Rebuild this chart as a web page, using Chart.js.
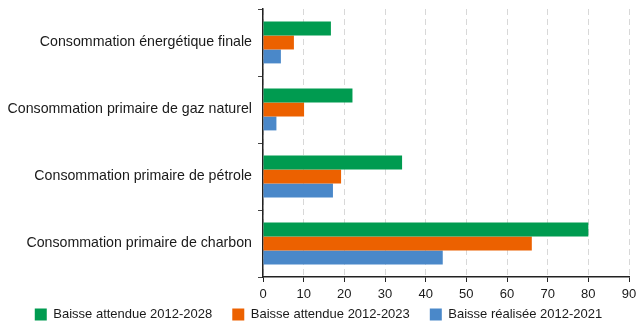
<!DOCTYPE html>
<html>
<head>
<meta charset="utf-8">
<script src="https://cdn.jsdelivr.net/npm/chart.js@4/dist/chart.umd.min.js"></script>
<style>
  html, body { margin: 0; padding: 0; background: #fff; }
  #wrap { width: 637px; height: 321px; }
</style>
</head>
<body>
<div id="wrap"><canvas id="chart"></canvas></div>
<script>
// catégories (axe vertical) et séries en %
const categories = [
    'Consommation énergétique finale',
    'Consommation primaire de gaz naturel',
    'Consommation primaire de pétrole',
    'Consommation primaire de charbon'
];
const baisse2028 = [16.7, 22, 34.2, 80];
const baisse2023 = [7.6, 10.1, 19.2, 66.1];
const realisee2021 = [4.4, 3.3, 17.2, 44.2];
const xTicks = [0, 10, 20, 30, 40, 50, 60, 70, 80, 90];

const font = "'Liberation Sans', Arial, Helvetica, sans-serif";

// légende compacte : on garde l'espacement horizontal de 20px
// mais on réduit la hauteur réservée sous l'axe
const LEGEND_H = 21;
const LEGEND_SHIFT = 12;
const compactLegend = {
    id: 'compactLegend',
    afterInit(chart) {
        const legend = chart.legend;
        const fit = legend.fit;
        legend.fit = function() {
            fit.call(this);
            this.height = LEGEND_H;
        };
    },
    afterLayout(chart) {
        chart.legend.top -= LEGEND_SHIFT;
    }
};

new Chart(document.getElementById('chart'), {
    type: 'bar',
    data: {
        labels: categories,
        datasets: [
            { label: 'Baisse attendue 2012-2028', data: baisse2028, backgroundColor: '#009b50' },
            { label: 'Baisse attendue 2012-2023', data: baisse2023, backgroundColor: '#ec6100' },
            { label: 'Baisse réalisée 2012-2021', data: realisee2021, backgroundColor: '#4a88c9' }
        ]
    },
    options: {
        indexAxis: 'y',
        responsive: true,
        maintainAspectRatio: false,
        animation: false,
        layout: { padding: { top: 9, left: 0, right: 0, bottom: 0 } },
        datasets: { bar: { barPercentage: 1, categoryPercentage: 0.624 } },
        scales: {
            x: {
                min: 0,
                max: 90,
                afterBuildTicks: function(scale) {
                    scale.ticks = xTicks.map(v => ({ value: v }));
                },
                afterFit: function(scale) {
                    scale.height = 23;
                    scale.paddingLeft = 0;
                    scale.paddingRight = 8;
                },
                grid: {
                    color: '#d8d8d8',
                    lineWidth: 1,
                    tickColor: '#222',
                    tickLength: 5,
                    tickWidth: 1
                },
                border: { color: '#222', width: 1.5, dash: [6, 4] },
                ticks: { color: '#1a1a1a', padding: 5, font: { family: font, size: 13 } }
            },
            y: {
                afterFit: function(scale) {
                    scale.width = 263;
                    scale.paddingTop = 0;
                    scale.paddingBottom = 0;
                },
                grid: {
                    drawOnChartArea: false,
                    tickColor: '#444',
                    tickLength: 5,
                    offset: true
                },
                border: { color: '#222', width: 1.5 },
                ticks: { color: '#1a1a1a', padding: 6, font: { family: font, size: 14.2 } }
            }
        },
        plugins: {
            legend: {
                position: 'bottom',
                labels: {
                    boxWidth: 12,
                    boxHeight: 12,
                    padding: 20,
                    color: '#1a1a1a',
                    font: { family: font, size: 13 }
                }
            },
            tooltip: { enabled: false }
        }
    },
    plugins: [compactLegend]
});
</script>
</body>
</html>
